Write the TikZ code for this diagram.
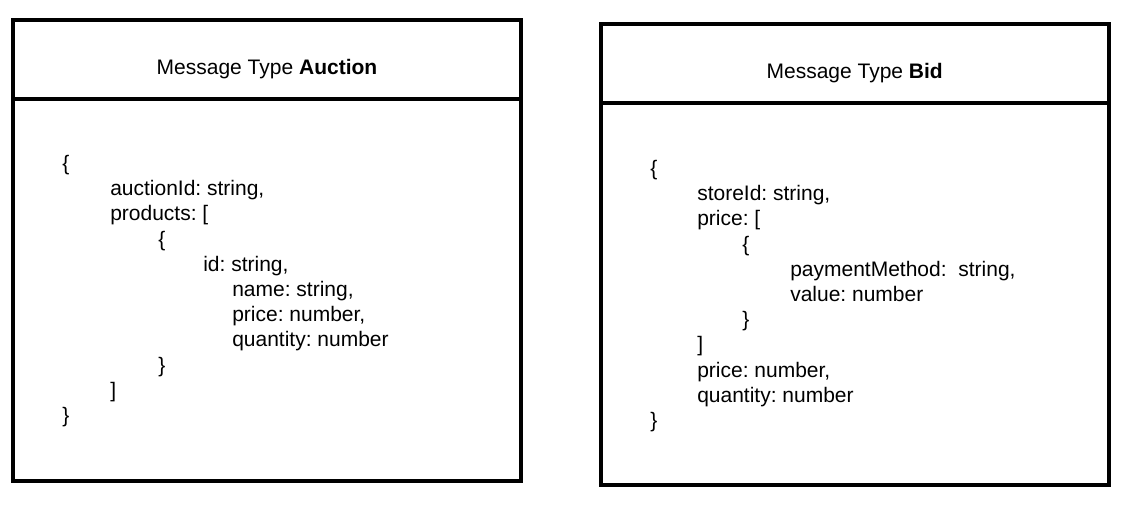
\documentclass[tikz,border=0pt]{standalone}
\usepackage{fontspec}
\setmainfont{Liberation Sans}
\usetikzlibrary{positioning}

\begin{document}
\frenchspacing
\begin{tikzpicture}[x=0.75pt,y=-0.75pt,
    headbox/.style={draw,line width=3pt,outer sep=0pt,minimum width=381pt,minimum height=59pt},
    bodybox/.style={draw,line width=3pt,outer sep=0pt,minimum width=381pt,minimum height=287pt},
    codeline/.style={anchor=base west,inner sep=0pt}]
    \useasboundingbox (0,0) rectangle (1128,508);
    \begin{scope}[every node/.style={font=\fontsize{15.75pt}{18.6pt}\selectfont}]
        %auction
        \node[headbox,anchor=north west] (auctionhead) at (13,20) {};
        \node[bodybox,below = 0pt of auctionhead] (auctionbody) {};
        \node[anchor=base] (auctiontitle) at ([yshift=-11.3pt]auctionhead.center) {Message Type \textbf{Auction}};
        \foreach \xx/\txt [count=\i] in {62/\{, 110/{auctionId: string,}, 110/{products: [},
            158/\{, 203/{id: string,}, 232/{name: string,}, 232/{price: number,},
            232/{quantity: number}, 158/\}, 110/], 62/\}}
            \node[codeline] (auction\i) at ({\xx},{170.5+25.2*(\i-1)}) {\txt};
    
        %bid
        \node[headbox,anchor=north west] (bidhead) at (600.7,24) {};
        \node[bodybox,below = 0pt of bidhead] (bidbody) {};
        \node[anchor=base] (bidtitle) at ([yshift=-11.5pt]bidhead.center) {Message Type \textbf{Bid}};
        \foreach \xx/\txt [count=\i] in {650/\{, 697/{storeId: string,}, 697/{price: [},
            742/\{, 790/{paymentMethod: \ string,}, 790/{value: number}, 742/\},
            697/], 697/{price: number,}, 697/{quantity: number}, 650/\}}
            \node[codeline] (bid\i) at ({\xx},{175.5+25.2*(\i-1)}) {\txt};
    \end{scope}
\end{tikzpicture}
\end{document}
